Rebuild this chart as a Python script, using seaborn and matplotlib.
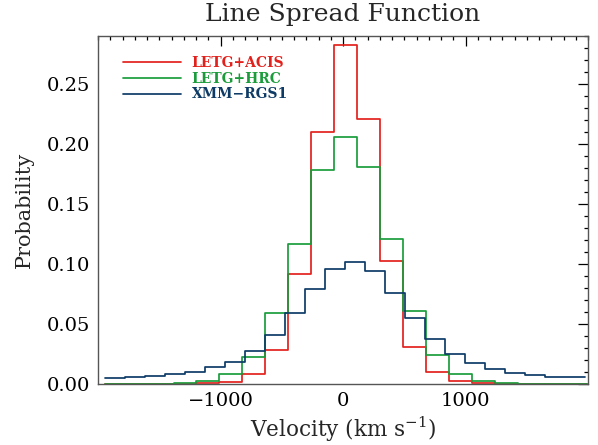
import numpy as np
import pandas as pd
import matplotlib
matplotlib.use("Agg")
import matplotlib.pyplot as plt
import seaborn as sns

# bin edges (km/s)
chandra_edges = [-71 + 187.5 * k for k in range(-10, 12)]
rgs_edges = [16 + 163 * k for k in range(-12, 13)]

# probabilities per bin
letg_acis = [0, 0, 0, 0.0003, 0.001, 0.002, 0.0081, 0.0283, 0.092, 0.2097, 0.2825,
             0.2208, 0.1025, 0.031, 0.0097, 0.0025, 0.0006, 0.0002, 0, 0, 0]
letg_hrc = [0, 0, 0.0002, 0.0006, 0.0025, 0.0083, 0.0228, 0.059, 0.117, 0.1783, 0.206,
            0.181, 0.1206, 0.0608, 0.0239, 0.0083, 0.0025, 0.0006, 0.0002, 0, 0]
xmm_rgs1 = [0.0053, 0.0061, 0.0069, 0.0081, 0.0100, 0.0139, 0.0186, 0.0278, 0.0408,
            0.0594, 0.0790, 0.0956, 0.1014, 0.0940, 0.0756, 0.0547, 0.0372, 0.0247,
            0.0172, 0.0128, 0.0094, 0.0075, 0.0061, 0.0056]

labels = ["LETG+ACIS", "LETG+HRC", "XMM\u2212RGS1"]
colors = ["#e3211c", "#1a9c3a", "#0d3b66"]

sns.set_style("white")
plt.rcParams["font.family"] = ["DejaVu Serif"]
plt.rcParams["mathtext.fontset"] = "dejavuserif"

fig = plt.figure(figsize=(5.98, 4.45), dpi=100)
ax = fig.add_axes([98 / 598, 1 - 384 / 445, 490 / 598, 348 / 445])

series = [(chandra_edges, letg_acis), (chandra_edges, letg_hrc), (rgs_edges, xmm_rgs1)]
for (edges, vals), lab, col in zip(series, labels, colors):
    df = pd.DataFrame({"v": edges, "p": list(vals) + [vals[-1]]})
    sns.lineplot(data=df, x="v", y="p", drawstyle="steps-post", color=col,
                 linewidth=1.25, label=lab, ax=ax)

ax.set_xlim(-2000, 2000)
ax.set_ylim(0, 0.29)
ax.set_xticks([-1000, 0, 1000])
ax.set_xticklabels(["\u22121000", "0", "1000"])
ax.set_xticks(np.arange(-2000, 2001, 100), minor=True)
ax.set_yticks(np.arange(0, 0.26, 0.05))
ax.set_yticklabels(["%.2f" % t for t in np.arange(0, 0.26, 0.05)])
ax.set_yticks(np.arange(0, 0.291, 0.01), minor=True)
ax.tick_params(which="both", direction="in", top=True, right=True, colors="black",
               labelsize=14, pad=6)
ax.tick_params(which="major", length=7, width=0.9)
ax.tick_params(which="minor", length=3, width=0.9)
for s in ax.spines.values():
    s.set_color("#555555")
    s.set_linewidth(1)

ax.set_title("Line Spread Function", fontsize=18, pad=11)
ax.set_xlabel("Velocity (km s$^{-1}$)", fontsize=15.5, labelpad=3)
ax.set_ylabel("Probability", fontsize=15, labelpad=9)

leg = ax.legend(loc="upper left", bbox_to_anchor=(0.025, 0.978), frameon=False,
                handlelength=4.2, handletextpad=0.75, labelspacing=0.12,
                prop={"weight": "bold", "size": 10})
for txt, col in zip(leg.get_texts(), colors):
    txt.set_color(col)

fig.savefig("out.png", dpi=100)
